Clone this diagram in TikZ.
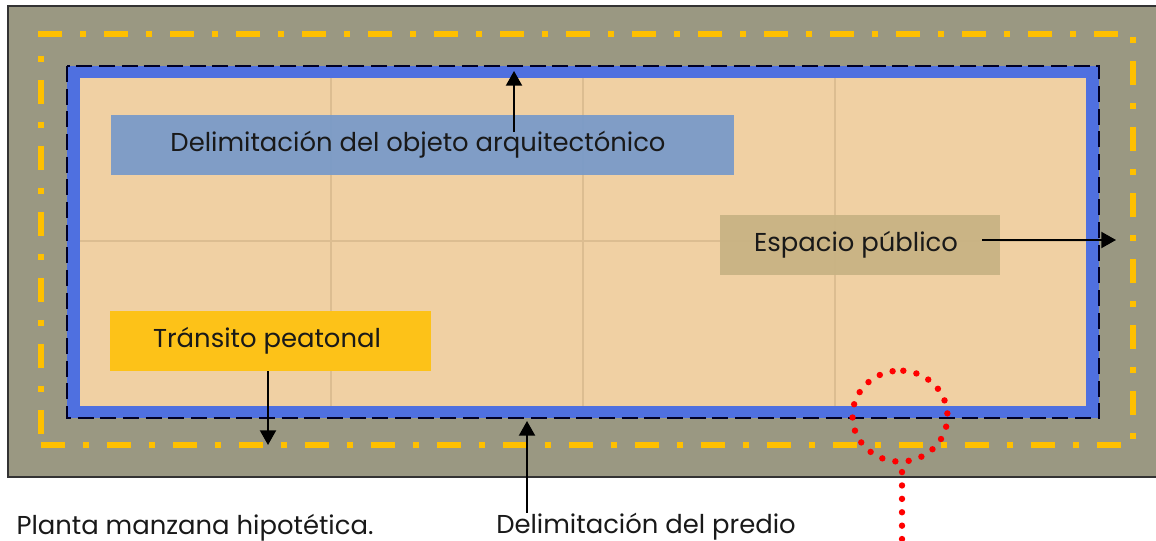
\documentclass[tikz,border=0pt]{standalone}
\usepackage{xcolor}
\usepackage{fontspec}
\setmainfont{Poppins}
\usetikzlibrary{
    arrows.meta,
    shapes.geometric,
    positioning
}
\definecolor{suelo}{HTML}{9A9882}
\definecolor{banda}{HTML}{4F70E0}
\definecolor{predio}{HTML}{F0D0A3}
\definecolor{reja}{HTML}{DCBD91}
\definecolor{oro}{HTML}{FFC000}
\definecolor{azulcaja}{HTML}{7A9BC8}
\definecolor{tierra}{HTML}{C9B384}
\definecolor{paso}{HTML}{FDC218}
\tikzset{
    etiqueta/.style={font=\fontsize{19.4}{23}\selectfont, text=black!90, inner sep=0pt, text height=15pt, text depth=4.5pt},
    limite/.style={oro, line width=4.5pt, dash pattern=on 18pt off 13.5pt on 4.5pt off 13.5pt},
    puntos/.style={red, line width=4.8pt, line cap=round, dash pattern=on 0pt off 10.05pt},
    flecha/.style={-{Triangle[length=11pt, width=12pt]}, black, line width=1.5pt}
}
\begin{document}
\begin{tikzpicture}[x=0.75pt, y=-0.75pt]
    \useasboundingbox (0, 0) rectangle (1156, 541);
    \fill[white] (0, 0) rectangle (1156, 541);
    \filldraw[fill=suelo, draw=black!80, line width=1pt] (8, 6) -- (1157, 6) -- (1157, 477) -- (8, 477) -- cycle;
    \draw[limite] (38, 34) -- (1118, 34) (1121, 445) -- (41, 445) (41, 434) -- (41, 56);
    \draw[limite, dash phase=31.5pt] (1133, 37) -- (1133, 439);
    \fill[banda] (67, 66) rectangle (1099, 418);
    \draw[black!85!blue, line width=1.5pt, dash pattern=on 12pt off 5pt] (67, 66) rectangle (1099, 418);
    \fill[predio] (80, 78) rectangle (1086, 406);
    \foreach \x in {331, 583, 835}
        \draw[reja, line width=.8pt] (\x, 78) -- (\x, 406);
    \draw[reja, line width=.8pt] (80, 241) -- (1086, 241);

    \fill[azulcaja, fill opacity=.95] (111, 115) rectangle (734, 175);
    \fill[tierra, fill opacity=.95] (720, 215) rectangle (1000, 275);
    \fill[paso] (110, 311) rectangle (431, 371);

    \node[etiqueta] (objeto) at (418, 145) {Delimitación del objeto arquitectónico};
    \node[etiqueta] (espacio) at (856, 245) {Espacio público};
    \node[etiqueta] (transito) at (267, 341) {Tránsito peatonal};
    \node[etiqueta] (delimita) at (646, 526) {Delimitación del predio};
    \node[etiqueta] (planta) at (195, 527) {Planta manzana hipotética.};

    \coordinate (bordeobj) at (514, 71);
    \coordinate (bordeesp) at (1116, 240);
    \coordinate (bordetra) at (268, 445);
    \coordinate (bordepre) at (527, 421);
    \coordinate (corte) at (902, 545);
    \draw[flecha] (objeto.north -| bordeobj) -- (bordeobj);
    \draw[flecha] (espacio.east |- bordeesp) ++(24, 0) -- (bordeesp);
    \draw[flecha] (transito.south -| bordetra) ++(0, 17) -- (bordetra);
    \draw[flecha] (delimita.north -| bordepre) -- (bordepre);

    \node[ellipse, minimum width=71.25pt, minimum height=68.25pt, inner sep=0pt] (detalle) at (900, 416.5) {};
    \draw[puntos] (detalle.north) ++(3.3, 0) arc[start angle=86, delta angle=-354, x radius=47.5, y radius=-45.5];
    \draw[puntos, dash phase=2.7pt] (detalle.south -| corte) -- (corte);
\end{tikzpicture}
\end{document}
